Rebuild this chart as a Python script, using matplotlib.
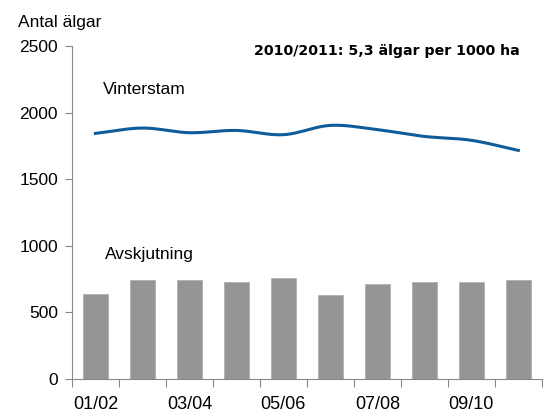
import numpy as np
import matplotlib.pyplot as plt

# säsonger och värden
seasons = ["01/02", "02/03", "03/04", "04/05", "05/06", "06/07", "07/08", "08/09", "09/10", "10/11"]
vinterstam = [1845, 1885, 1850, 1867, 1835, 1905, 1873, 1822, 1793, 1717]
avskjutning = [638, 740, 747, 729, 758, 630, 710, 729, 729, 747]


def smooth(x, y, n=20):
    # Catmull-Rom, ungefär som Excels utjämnade linje
    x = np.asarray(x, float)
    y = np.asarray(y, float)
    px = np.concatenate([[2 * x[0] - x[1]], x, [2 * x[-1] - x[-2]]])
    py = np.concatenate([[2 * y[0] - y[1]], y, [2 * y[-1] - y[-2]]])
    xs, ys = [], []
    t = np.linspace(0, 1, n, endpoint=False)
    for i in range(1, len(px) - 2):
        for p, out in ((px, xs), (py, ys)):
            p0, p1, p2, p3 = p[i - 1], p[i], p[i + 1], p[i + 2]
            out.extend(0.5 * (2 * p1 + (-p0 + p2) * t
                              + (2 * p0 - 5 * p1 + 4 * p2 - p3) * t ** 2
                              + (-p0 + 3 * p1 - 3 * p2 + p3) * t ** 3))
    xs.append(x[-1])
    ys.append(y[-1])
    return xs, ys


plt.rcParams['font.family'] = ['Liberation Sans', 'DejaVu Sans']

fig = plt.figure(figsize=(5.49, 4.16), dpi=100)
ax = fig.add_axes([0.131, 0.089, 0.856, 0.800])

pos = np.arange(len(seasons))
ax.bar(pos, avskjutning, width=0.53, color="#959595", edgecolor="#b0b0b0", linewidth=0.6, zorder=2)
sx, sy = smooth(pos, vinterstam)
ax.plot(sx, sy, color="#0f5c9a", linewidth=2.2, zorder=3)

ax.set_xlim(-0.5, len(seasons) - 0.5)
ax.set_ylim(0, 2500)
ax.set_yticks(np.arange(0, 2501, 500))

# streck mellan kategorierna, etiketter på varannan säsong
ax.set_xticks(np.arange(-0.5, len(seasons), 1.0))
ax.set_xticklabels([])
ax.set_xticks(pos[::2], minor=True)
ax.set_xticklabels(seasons[::2], minor=True)
ax.tick_params(axis="x", which="minor", length=0, pad=12, labelsize=13)
ax.tick_params(axis="x", which="major", length=6, color="#888888", direction="out")
ax.tick_params(axis="y", length=5, color="#888888", labelsize=12.5, pad=5)

for s in ("top", "right"):
    ax.spines[s].set_visible(False)
for s in ("left", "bottom"):
    ax.spines[s].set_color("#888888")

fig.text(0.033, 0.935, "Antal älgar", fontsize=12.5)
ax.text(0.065, 0.855, "Vinterstam", transform=ax.transAxes, fontsize=12.5)
ax.text(0.07, 0.36, "Avskjutning", transform=ax.transAxes, fontsize=12.5)
ax.text(0.953, 0.985, "2010/2011: 5,3 älgar per 1000 ha", transform=ax.transAxes,
        fontsize=10.2, fontweight="bold", family="DejaVu Sans", ha="right", va="center")

fig.savefig("out.png", dpi=100)
